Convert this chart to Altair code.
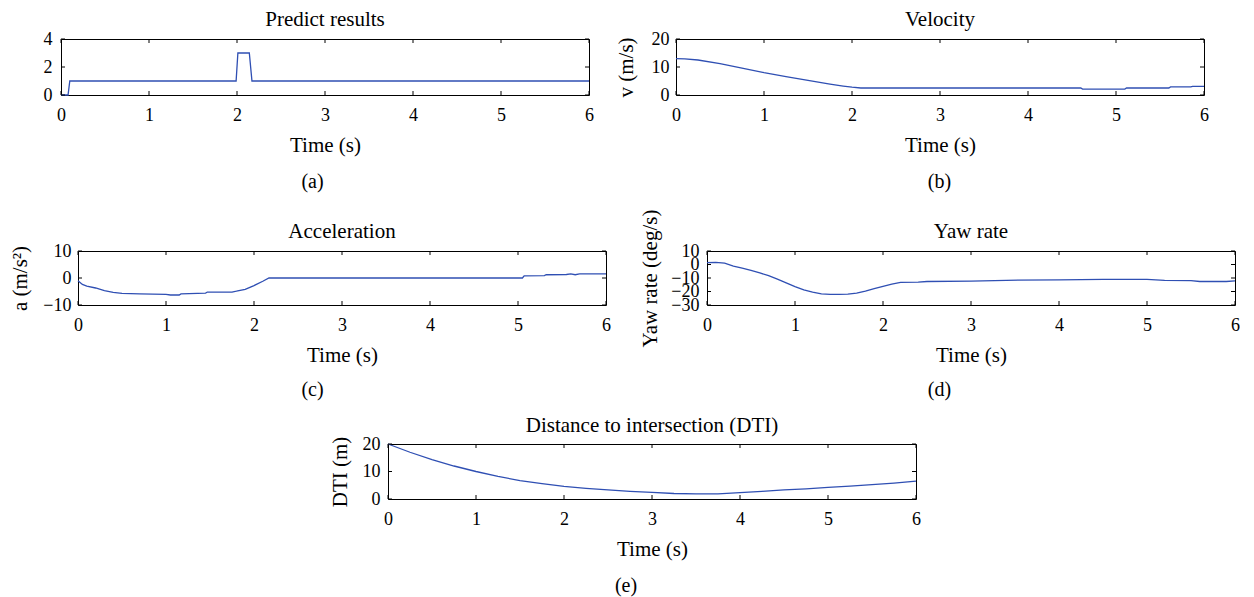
import altair as alt
import pandas as pd

FONT = "Liberation Serif"
LINE = "#2f4fb3"
TICK_FS = 18
LABEL_FS = 21
TITLE_FS = 21
CAP_FS = 20

x_ticks = [0, 1, 2, 3, 4, 5, 6]

# (a) Predict results
t_pred = [0, 0.08, 0.1, 1.99, 2.01, 2.14, 2.17, 6.0]
y_pred = [0, 0, 1, 1, 3, 3, 1, 1]

# (b) Velocity
t_vel = [0, 0.1, 0.25, 0.5, 0.75, 1.0, 1.25, 1.5, 1.75, 1.9, 2.0, 2.1, 4.6, 4.62,
         5.1, 5.12, 5.6, 5.62, 5.85, 5.87, 6.0]
v_vel = [13.0, 12.9, 12.5, 11.2, 9.6, 8.0, 6.6, 5.2, 3.9, 3.2, 2.8, 2.5, 2.5, 2.1,
         2.1, 2.5, 2.5, 2.9, 2.9, 3.1, 3.1]

# (c) Acceleration
t_acc = [0, 0.05, 0.1, 0.2, 0.3, 0.4, 0.5, 0.7, 1.0, 1.05, 1.15, 1.17, 1.45, 1.47,
         1.75, 1.8, 1.9, 2.0, 2.1, 2.17, 5.05, 5.07, 5.3, 5.32, 5.55, 5.6, 5.65, 5.7, 6.0]
a_acc = [-1.0, -2.4, -3.0, -3.7, -4.7, -5.3, -5.7, -5.9, -6.1, -6.3, -6.3, -5.9, -5.6, -5.2,
         -5.2, -4.9, -4.2, -2.8, -1.2, 0.0, 0.0, 0.8, 0.9, 1.2, 1.3, 1.5, 1.2, 1.5, 1.5]

# (d) Yaw rate
t_yaw = [0, 0.1, 0.2, 0.3, 0.4, 0.5, 0.6, 0.7, 0.8, 0.9, 1.0, 1.1, 1.2, 1.3, 1.4, 1.5,
         1.6, 1.7, 1.8, 1.9, 2.0, 2.1, 2.2, 2.4, 2.5, 3.0, 3.4, 4.0, 4.5, 5.0, 5.2, 5.5,
         5.6, 5.9, 6.0]
r_yaw = [1.4, 1.6, 1.0, -1.2, -2.7, -4.3, -6.2, -8.3, -10.9, -13.6, -16.4, -18.8, -20.5,
         -21.8, -22.1, -22.1, -22.0, -21.2, -19.7, -17.9, -16.2, -14.5, -13.3, -13.1, -12.6,
         -12.3, -11.7, -11.4, -11.0, -11.0, -11.7, -11.9, -12.6, -12.6, -12.1]

# (e) Distance to intersection
t_dti = [0, 0.25, 0.5, 0.75, 1.0, 1.25, 1.5, 1.75, 2.0, 2.25, 2.5, 2.75, 3.0, 3.25, 3.5,
         3.75, 4.0, 4.25, 4.5, 4.75, 5.0, 5.25, 5.5, 5.75, 6.0]
d_dti = [20.0, 17.0, 14.3, 12.0, 10.0, 8.2, 6.7, 5.6, 4.6, 3.9, 3.3, 2.8, 2.4, 2.0, 1.9,
         1.9, 2.3, 2.8, 3.3, 3.7, 4.2, 4.7, 5.2, 5.8, 6.5]


def label_layer(text, x, y, size, baseline):
    return alt.Chart(pd.DataFrame({"c": [text]})).mark_text(
        font=FONT, fontSize=size, baseline=baseline, align="center", color="black"
    ).encode(text="c:N", x=alt.value(x), y=alt.value(y))


def panel(t, y, title, ytitle, ydomain, yticks, w, h, caption, cap_x, cap_y,
          ttl_pad=8, lbl_pad=8, title_y=-13):
    df = pd.DataFrame({"t": t, "y": y})
    xs = alt.Scale(domain=[0, 6], nice=False, zero=False)
    ys = alt.Scale(domain=ydomain, nice=False, zero=False)
    xaxis = alt.Axis(values=x_ticks, title="Time (s)", labelPadding=11, titlePadding=10,
                     labelFlush=False, labelOverlap=False, format="d")
    yaxis = alt.Axis(values=yticks, title=ytitle, labelPadding=lbl_pad,
                     titlePadding=ttl_pad, labelOverlap=False, format="d")
    X = alt.X("t:Q", scale=xs, axis=xaxis)
    Y = alt.Y("y:Q", scale=ys, axis=yaxis)
    line = alt.Chart(df).mark_line(color=LINE, strokeWidth=1.3).encode(x=X, y=Y)
    xt = pd.DataFrame({"t": x_ticks})
    yt = pd.DataFrame({"y": yticks})
    xt_bot = alt.Chart(xt).mark_rule(color="black", strokeWidth=1).encode(
        x=X, y=alt.value(h), y2=alt.value(h - 4))
    xt_top = alt.Chart(xt).mark_rule(color="black", strokeWidth=1).encode(
        x=X, y=alt.value(0), y2=alt.value(4))
    yt_l = alt.Chart(yt).mark_rule(color="black", strokeWidth=1).encode(
        y=Y, x=alt.value(0), x2=alt.value(4))
    yt_r = alt.Chart(yt).mark_rule(color="black", strokeWidth=1).encode(
        y=Y, x=alt.value(w - 4), x2=alt.value(w))
    ttl = label_layer(title, w / 2, title_y, TITLE_FS, "alphabetic")
    cap = label_layer(caption, cap_x, cap_y, CAP_FS, "middle")
    return alt.layer(line, xt_bot, xt_top, yt_l, yt_r, ttl, cap).properties(
        width=w, height=h)


def spacer(w):
    return alt.Chart(pd.DataFrame({"s": [0]})).mark_point(opacity=0, size=1).encode(
        x=alt.value(0), y=alt.value(0)
    ).properties(width=w, height=1, view=alt.ViewBackground(stroke="transparent"))


A = panel(t_pred, y_pred, "Predict results", None, [0, 4], [0, 2, 4], 528, 56,
          "(a)", 251.5, 143, lbl_pad=9)
B = panel(t_vel, v_vel, "Velocity", "v (m/s)", [0, 20], [0, 10, 20], 528, 56,
          "(b)", 263.5, 143, ttl_pad=15, lbl_pad=7)
C = panel(t_acc, a_acc, "Acceleration", "a (m/s²)", [-10, 10], [-10, 0, 10], 528, 54,
          "(c)", 234.5, 139, ttl_pad=12, lbl_pad=7)
D = panel(t_yaw, r_yaw, "Yaw rate", "Yaw rate (deg/s)", [-30, 10], [-30, -20, -10, 0, 10],
          528, 54, "(d)", 232.5, 139, ttl_pad=10, lbl_pad=8)
E = panel(t_dti, d_dti, "Distance to intersection (DTI)", "DTI (m)", [0, 20], [0, 10, 20],
          528, 55, "(e)", 238, 142, ttl_pad=12, lbl_pad=8, title_y=-12)

row1 = alt.hconcat(A, B, spacing=87, bounds="flush")
row2 = alt.hconcat(spacer(17), alt.hconcat(C, D, spacing=101, bounds="flush"),
                   spacing=0, bounds="flush")
row3 = alt.hconcat(spacer(327), E, spacing=0, bounds="flush")

lower = alt.vconcat(row2, row3, spacing=193, bounds="flush")
chart = alt.vconcat(row1, lower, spacing=212, bounds="flush").properties(
    padding={"left": 1, "top": 0, "right": 0, "bottom": 0}
).configure_view(
    stroke="black", strokeWidth=1
).configure_axis(
    labelFont=FONT, labelFontSize=TICK_FS, labelColor="black",
    titleFont=FONT, titleFontSize=LABEL_FS, titleFontWeight="normal", titleColor="black",
    ticks=False, tickSize=0, domain=False, grid=False,
)

chart.save("out.html", embed_options={"renderer": "svg", "actions": False})
